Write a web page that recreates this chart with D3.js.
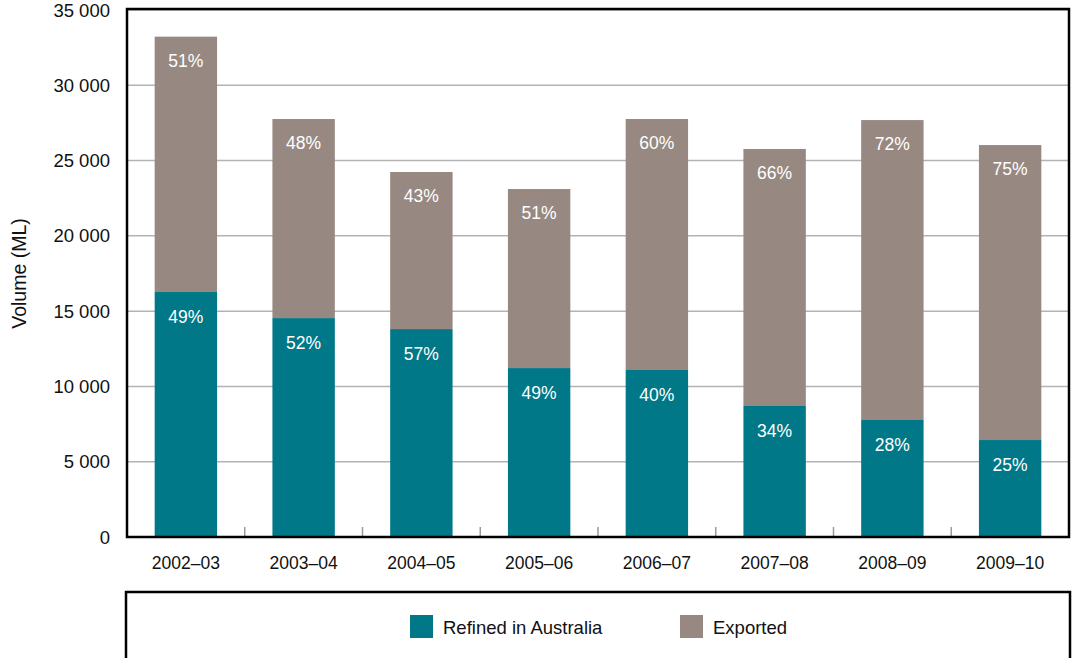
<!DOCTYPE html>
<html>
<head>
<meta charset="utf-8">
<script src="https://cdn.jsdelivr.net/npm/d3@7"></script>
<style>
  body { margin: 0; background: #fff; }
  svg { display: block; font-family: "Liberation Sans", Arial, sans-serif; }
</style>
</head>
<body>
<div id="chart"></div>
<script>
const years = ['2002–03', '2003–04', '2004–05', '2005–06', '2006–07', '2007–08', '2008–09', '2009–10']
const refined = [16270, 14540, 13810, 11220, 11090, 8700, 7770, 6440]
const exported = [16960, 13220, 10430, 11890, 16670, 17070, 19920, 19590]
const refinedPct = ['49%', '52%', '57%', '49%', '40%', '34%', '28%', '25%']
const exportedPct = ['51%', '48%', '43%', '51%', '60%', '66%', '72%', '75%']
const yTicks = [0, 5000, 10000, 15000, 20000, 25000, 30000, 35000]
const seriesNames = ['Refined in Australia', 'Exported']
const colors = ['#007888', '#978981']

const width = 1072
const height = 658
const margin = { left: 127, right: 2, top: 10, bottom: 121 }

const svg = d3.select('#chart').append('svg')
  .attr('width', width)
  .attr('height', height)

const x = d3.scaleBand()
  .domain(years)
  .range([margin.left, width - margin.right - 1])
  .paddingInner(0.47)
  .paddingOuter(0.235)

const y = d3.scaleLinear()
  .domain([0, 35000])
  .range([height - margin.bottom, margin.top])

const fmt = d => d === 0 ? '0' : d3.format(',')(d).replace(',', ' ')

// gridlines
svg.append('g')
  .selectAll('line')
  .data(yTicks.slice(1))
  .join('line')
  .attr('x1', margin.left)
  .attr('x2', width - margin.right - 1)
  .attr('y1', d => y(d))
  .attr('y2', d => y(d))
  .attr('stroke', '#b3b3b3')
  .attr('stroke-width', 1.5)

// y labels
svg.append('g')
  .selectAll('text')
  .data(yTicks)
  .join('text')
  .attr('x', 110)
  .attr('y', d => y(d) + 6.5)
  .attr('text-anchor', 'end')
  .attr('font-size', 18.5)
  .attr('fill', '#111')
  .text(fmt)

svg.append('text')
  .attr('transform', `translate(26,${y(17500)}) rotate(-90)`)
  .attr('text-anchor', 'middle')
  .attr('font-size', 19.5)
  .attr('fill', '#111')
  .text('Volume (ML)')

// x ticks between categories
const step = x.step()
svg.append('g')
  .selectAll('line')
  .data(years.slice(1))
  .join('line')
  .attr('x1', d => x(d) - step * x.paddingInner() / 2)
  .attr('x2', d => x(d) - step * x.paddingInner() / 2)
  .attr('y1', y(0))
  .attr('y2', y(0) - 10)
  .attr('stroke', '#999')
  .attr('stroke-width', 1.5)

// bars
const stacked = years.map((yr, i) => ({ yr, r: refined[i], e: exported[i], rp: refinedPct[i], ep: exportedPct[i] }))
const bars = svg.append('g')
  .selectAll('g')
  .data(stacked)
  .join('g')

bars.append('rect')
  .attr('x', d => x(d.yr))
  .attr('width', x.bandwidth())
  .attr('y', d => y(d.r))
  .attr('height', d => y(0) - y(d.r))
  .attr('fill', colors[0])

bars.append('rect')
  .attr('x', d => x(d.yr))
  .attr('width', x.bandwidth())
  .attr('y', d => y(d.r + d.e))
  .attr('height', d => y(d.r) - y(d.r + d.e))
  .attr('fill', colors[1])

bars.append('text')
  .attr('x', d => x(d.yr) + x.bandwidth() / 2)
  .attr('y', d => y(d.r) + 31)
  .attr('text-anchor', 'middle')
  .attr('font-size', 17.5)
  .attr('fill', '#fff')
  .text(d => d.rp)

bars.append('text')
  .attr('x', d => x(d.yr) + x.bandwidth() / 2)
  .attr('y', d => y(d.r + d.e) + 30)
  .attr('text-anchor', 'middle')
  .attr('font-size', 17.5)
  .attr('fill', '#fff')
  .text(d => d.ep)

// x labels
svg.append('g')
  .selectAll('text')
  .data(years)
  .join('text')
  .attr('x', d => x(d) + x.bandwidth() / 2)
  .attr('y', 569)
  .attr('text-anchor', 'middle')
  .attr('font-size', 17.5)
  .attr('fill', '#111')
  .text(d => d)

// frame
svg.append('rect')
  .attr('x', margin.left)
  .attr('y', margin.top - 1)
  .attr('width', width - margin.right - 1 - margin.left)
  .attr('height', y(0) - margin.top + 1)
  .attr('fill', 'none')
  .attr('stroke', '#000')
  .attr('stroke-width', 2.5)

// legend box
svg.append('rect')
  .attr('x', 126)
  .attr('y', 592)
  .attr('width', 1070 - 126)
  .attr('height', 80)
  .attr('fill', 'none')
  .attr('stroke', '#000')
  .attr('stroke-width', 2.5)

const legend = svg.append('g')
  .selectAll('g')
  .data(seriesNames)
  .join('g')
  .attr('transform', (d, i) => `translate(${[410, 680][i]},615)`)

legend.append('rect')
  .attr('width', 23)
  .attr('height', 23)
  .attr('fill', (d, i) => colors[i])

legend.append('text')
  .attr('x', 33)
  .attr('y', 18.5)
  .attr('font-size', 18.5)
  .attr('fill', '#111')
  .text(d => d)
</script>
</body>
</html>
